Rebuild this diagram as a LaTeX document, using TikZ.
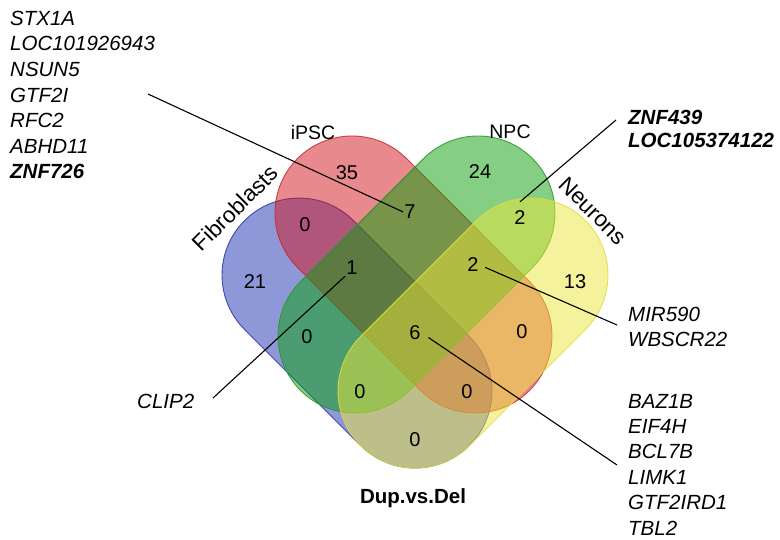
\documentclass[tikz,border=0pt]{standalone}
\usepackage{fontspec}
\setmainfont{Liberation Sans}
\definecolor{fibro}{RGB}{30,50,180}
\definecolor{fibroedge}{RGB}{40,50,170}
\definecolor{ipsc}{RGB}{210,20,30}
\definecolor{ipscedge}{RGB}{200,40,40}
\definecolor{npc}{RGB}{10,160,10}
\definecolor{npcedge}{RGB}{40,150,40}
\definecolor{neur}{RGB}{235,230,60}
\definecolor{neuredge}{RGB}{225,220,60}
% one set of the diagram: a stadium (mid x, mid y, angle, half length, style)
\newcommand\vennlobe[5]{%
  \begin{scope}[shift={(#1,#2)}, rotate=#3, x=1pt, y=1pt]
    \path[#5] (-#4,-77) -- (#4,-77) arc[start angle=-90,end angle=90,radius=77]
      -- (-#4,77) arc[start angle=90,end angle=270,radius=77] -- cycle;
  \end{scope}}
\begin{document}
\begin{tikzpicture}[x=1pt,y=-1pt,
  lobe/.style={fill=#1, fill opacity=0.5, draw=#1edge, draw opacity=0.85, line width=0.9pt},
  num/.style={font=\fontsize{20}{24}\selectfont, inner sep=1pt},
  setname/.style={font=\fontsize{19.5}{23}\selectfont, inner sep=0pt},
  sidename/.style={font=\fontsize{22.5}{26}\selectfont, inner sep=0pt},
  gene/.style={font=\fontsize{20.5}{25}\selectfont\itshape, inner sep=0pt, anchor=base west},
  bgene/.style={gene, font=\fontsize{20.5}{25}\selectfont\bfseries\itshape},
  leader/.style={line width=1.1pt, black}]
\useasboundingbox (0,0) rectangle (780,539);

% the four sets
\vennlobe{357}{333}{-45}{82}{lobe=fibro}
\vennlobe{413.5}{274.5}{-45}{87}{lobe=ipsc}
\vennlobe{416.5}{274.5}{45}{87}{lobe=npc}
\vennlobe{473}{333}{45}{82}{lobe=neur}

% region counts
\node[num] (nA)    at (255,282) {21};
\node[num] (nB)    at (347,173) {35};
\node[num] (nC)    at (480,172) {24};
\node[num] (nD)    at (575,282) {13};
\node[num] (nAB)   at (305,225) {0};
\node[num] (nBC)   at (410,212) {7};
\node[num] (nCD)   at (520,218) {2};
\node[num] (nABC)  at (352,268) {1};
\node[num] (nBCD)  at (473,265) {2};
\node[num] (nAC)   at (307,337) {0};
\node[num] (nABCD) at (415,333) {6};
\node[num] (nBD)   at (522,332) {0};
\node[num] (nACD)  at (360,392) {0};
\node[num] (nABD)  at (467,392) {0};
\node[num] (nAD)   at (415,440) {0};

% set names and title
\node[setname] (sB) at (313,133) {iPSC};
\node[setname] (sC) at (510,132) {NPC};
\node[sidename, rotate=45] (sA) at (235,208) {Fibroblasts};
\node[sidename, rotate=-45] (sD) at (593,211) {Neurons};
\node[font=\fontsize{20.5}{24}\selectfont\bfseries, inner sep=0pt] (title) at (413,498) {Dup.vs.Del};

% gene lists
\foreach \g [count=\i] in {STX1A,LOC101926943,NSUN5,GTF2I,RFC2,ABHD11}
  \node[gene] (lg\i) at (10,{25.3+25.6*(\i-1)}) {\g};
\node[bgene] (lg7) at (10,178.9) {ZNF726};
\node[bgene] (rg1) at (628,124.5) {ZNF439};
\node[bgene] (rg2) at (628,147.5) {LOC105374122};
\node[gene] (mg1) at (628,321) {MIR590};
\node[gene] (mg2) at (628,346) {WBSCR22};
\foreach \g [count=\i] in {BAZ1B,EIF4H,BCL7B,LIMK1,GTF2IRD1,TBL2}
  \node[gene] (bg\i) at (628,{408+25.4*(\i-1)}) {\g};
\node[gene] (cg) at (137,408) {CLIP2};

% leader lines
\coordinate (gA) at (148,94);
\coordinate (gB) at (616,120);
\coordinate (gC) at (213,398);
\coordinate (gD) at (617,325);
\coordinate (gE) at (617,465);
\draw[leader] (gA) -- (nBC.west);
\draw[leader] (gB) -- ([yshift=8pt]nCD.north);
\draw[leader] (gC) -- (nABC.south west);
\draw[leader, shorten <=6pt] (nBCD.east) -- (gD);
\draw[leader, shorten <=8pt] (nABCD.east) -- (gE);
\end{tikzpicture}
\end{document}
